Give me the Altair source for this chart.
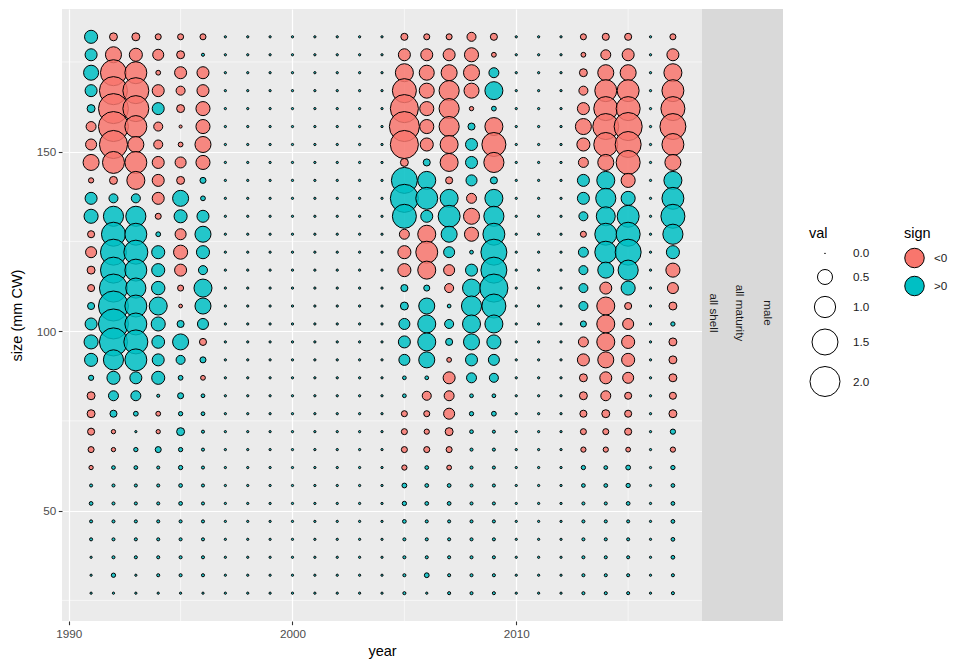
import altair as alt
import pandas as pd

# ---------------- data ----------------
years = [1991, 1992, 1993, 1994, 1995, 1996, 1997, 1998, 1999, 2000,
         2001, 2002, 2003, 2004, 2005, 2006, 2007, 2008, 2009, 2010,
         2011, 2012, 2013, 2014, 2015, 2016, 2017]

# size bins, top (182) to bottom (27)
sizes = [182, 177, 172, 167, 162, 157, 152, 147, 142, 137, 132,
         127, 122, 117, 112, 107, 102, 97, 92, 87, 82, 77,
         72, 67, 62, 57, 52, 47, 42, 37, 32, 27]

# signed values per year, same order as sizes
v1991 = [0.38, 0.32, 0.5, 0.32, 0.14, -0.22, -0.27, -0.57, -0.06, 0.32, 0.44,
         -0.11, -0.27, -0.14, -0.11, 0.11, 0.32, 0.44, 0.38, 0.06, -0.14, -0.14,
         -0.11, -0.08, -0.04, 0.02, 0.03, 0.02, 0.02, 0.01, 0.01, 0.01]
v1992 = [-0.14, -0.57, -1.5, -1.75, -2.0, -2.0, -1.75, -1.07, -0.14, 0.18, 0.9,
         1.28, 1.5, 1.5, 1.75, 2.0, 2.0, 1.75, 0.9, 0.38, 0.22, 0.11,
         -0.04, -0.04, 0.03, 0.02, 0.02, 0.02, 0.02, 0.02, 0.04, 0.01]
v1993 = [-0.14, -0.38, -1.07, -1.5, -1.5, -1.07, -0.57, -1.07, -0.72, 0.18, 0.9,
         1.07, 1.28, 1.07, 0.9, 1.07, 1.07, 1.28, 1.07, 0.32, 0.22, 0.05,
         0.01, 0.04, 0.03, 0.02, 0.02, 0.02, 0.02, 0.02, 0.01, 0.01]
v1994 = [-0.08, -0.27, -0.05, -0.32, 0.32, -0.18, -0.18, -0.32, -0.32, -0.32, -0.08,
         0.05, 0.38, 0.38, 0.4, 0.72, 0.44, 0.36, 0.32, 0.38, 0.02, -0.05,
         -0.04, 0.08, 0.02, 0.02, 0.02, 0.02, 0.02, 0.02, 0.02, 0.01]
v1995 = [-0.08, -0.14, -0.32, -0.18, -0.14, -0.02, -0.05, -0.27, -0.14, 0.57, 0.38,
         -0.27, -0.44, -0.32, -0.08, -0.03, 0.11, 0.57, 0.18, 0.05, 0.08, 0.04,
         0.14, 0.04, 0.04, 0.03, 0.03, 0.02, 0.02, 0.02, 0.02, 0.01]
v1996 = [-0.08, 0.02, -0.32, -0.32, -0.44, -0.44, -0.57, -0.44, 0.08, 0.05, 0.32,
         0.57, 0.38, 0.18, 0.72, 0.57, 0.27, -0.11, 0.08, -0.05, 0.03, 0.03,
         0.02, 0.02, 0.02, 0.02, 0.02, 0.02, 0.02, 0.02, 0.02, 0.01]
near_zero = [0.01, 0.01, 0.01, 0.01, 0.01, 0.01, 0.01, 0.01, 0.01, 0.01, 0.01,
             0.01, 0.01, 0.01, 0.01, 0.01, 0.01, 0.01, 0.01, 0.01, 0.01, 0.01,
             0.01, 0.01, 0.01, 0.01, 0.01, 0.01, 0.01, 0.01, 0.01, 0.01]
v2005 = [-0.11, -0.32, -0.72, -1.28, -1.75, -2.0, -1.75, -0.14, 1.5, 1.75, 1.28,
         -0.22, -0.38, -0.38, 0.11, 0.14, 0.27, 0.32, 0.27, 0.03, 0.03, -0.08,
         -0.08, -0.08, -0.06, 0.05, 0.04, 0.03, 0.02, 0.02, 0.02, 0.02]
v2006 = [-0.08, -0.32, -0.5, -0.5, -0.44, -0.44, -0.38, 0.11, 0.72, 1.07, 0.32,
         -0.72, -1.07, -0.72, 0.08, 0.57, 0.72, 0.72, 0.57, 0.03, -0.18, -0.08,
         -0.06, -0.08, 0.03, 0.03, 0.03, 0.02, 0.02, 0.02, 0.05, 0.01]
v2007 = [-0.08, -0.32, -0.57, -0.9, -0.9, -0.9, -0.72, -0.72, -0.11, 0.72, 1.07,
         0.57, 0.27, -0.27, -0.18, 0.03, 0.18, 0.11, -0.05, -0.32, -0.22, -0.27,
         -0.14, -0.08, -0.05, 0.03, 0.03, 0.02, 0.02, 0.02, 0.02, 0.02]
v2008 = [-0.18, -0.44, -0.57, -0.5, -0.04, 0.11, 0.32, 0.32, 0.27, -0.22, -0.57,
         -0.44, 0.03, 0.32, 0.72, 0.9, 0.72, 0.57, 0.32, 0.22, 0.03, 0.04,
         0.03, 0.02, 0.02, 0.02, 0.02, 0.02, 0.02, 0.02, 0.02, 0.02]
v2009 = [-0.11, -0.05, 0.22, 0.72, 0.05, -0.72, -1.28, -0.9, 0.11, 0.72, 0.9,
         1.07, 1.5, 1.5, 1.75, 1.28, 0.72, 0.44, 0.27, 0.18, 0.03, 0.05,
         0.02, 0.02, 0.02, 0.02, 0.02, 0.02, 0.02, 0.02, 0.02, 0.02]
v2013 = [-0.08, -0.05, -0.14, -0.18, -0.32, -0.57, -0.38, -0.22, 0.32, 0.32, 0.18,
         -0.08, 0.22, 0.18, 0.18, 0.18, 0.08, -0.22, -0.32, -0.14, -0.14, -0.11,
         -0.08, -0.06, 0.04, 0.03, 0.02, 0.02, 0.02, 0.02, 0.02, 0.02]
v2014 = [-0.11, -0.22, -0.57, -1.07, -1.28, -1.5, -1.28, -0.57, 0.72, 0.9, 0.8,
         1.07, 1.07, 0.57, -0.32, -0.72, -0.72, -0.72, -0.57, -0.32, -0.22, -0.14,
         -0.08, -0.06, 0.03, 0.03, 0.02, 0.02, 0.02, 0.02, 0.02, 0.02]
v2015 = [-0.11, -0.32, -0.57, -1.07, -1.28, -1.75, -1.5, -1.28, -0.44, 0.44, 1.07,
         1.28, 1.5, 0.9, 0.44, -0.11, -0.27, -0.38, -0.38, -0.27, -0.11, -0.11,
         -0.11, -0.05, 0.05, 0.04, 0.03, 0.02, 0.02, 0.02, 0.02, 0.02]
v2017 = [-0.08, -0.32, -0.72, -1.07, -1.28, -1.5, -1.07, -0.57, 0.72, 1.07, 1.28,
         0.9, 0.38, -0.44, -0.27, -0.14, 0.04, -0.14, -0.14, -0.14, -0.11, -0.14,
         0.06, -0.06, 0.04, 0.03, 0.03, 0.03, 0.03, 0.03, 0.02, 0.02]

series = {
    1991: v1991, 1992: v1992, 1993: v1993, 1994: v1994, 1995: v1995, 1996: v1996,
    1997: near_zero, 1998: near_zero, 1999: near_zero, 2000: near_zero,
    2001: near_zero, 2002: near_zero, 2003: near_zero, 2004: near_zero,
    2005: v2005, 2006: v2006, 2007: v2007, 2008: v2008, 2009: v2009,
    2010: near_zero, 2011: near_zero, 2012: near_zero,
    2013: v2013, 2014: v2014, 2015: v2015, 2016: near_zero, 2017: v2017,
}

sign_labels = ["<0", ">0"]
sign_colors = ["#F8766D", "#00BFC4"]
val_legend_values = [0.0, 0.5, 1.0, 1.5, 2.0]
x_ticks = [1990, 2000, 2010]
y_ticks = [50, 100, 150]
x_minor = [1995, 2005, 2015]
y_minor = [25, 75, 125, 175]
strip_labels = ["all shell", "all maturity", "male"]

rows = []
for yr in years:
    for s, v in zip(sizes, series[yr]):
        rows.append({"year": yr, "size": s, "val": abs(v),
                     "sign": "<0" if v < 0 else ">0"})
df = pd.DataFrame(rows)

FONT = "Liberation Sans"
W, H = 640, 612

xscale = alt.Scale(domain=[1989.7, 2018.3], nice=False, zero=False)
yscale = alt.Scale(domain=[19.25, 189.75], nice=False, zero=False)

common_axis = dict(labelFontSize=11.7, labelColor="#4D4D4D", tickColor="#333333",
                   tickSize=3.7, tickWidth=1.1, domain=False, grid=True,
                   gridColor="white", gridWidth=1.2, titleFontSize=14.5,
                   titleFontWeight="normal", titleColor="black",
                   labelFont=FONT, titleFont=FONT)

xaxis = alt.Axis(values=x_ticks, format="d", title="year", labelPadding=3.5,
                 titlePadding=5, **common_axis)
yaxis = alt.Axis(values=y_ticks, format="d", title="size (mm CW)", labelPadding=2.5,
                 titlePadding=12, **common_axis)

one = pd.DataFrame({"k": [0]})

minor_x = alt.Chart(pd.DataFrame({"year": x_minor})).mark_rule(
    color="white", strokeWidth=0.6).encode(x=alt.X("year:Q", scale=xscale, axis=xaxis))
minor_y = alt.Chart(pd.DataFrame({"size": y_minor})).mark_rule(
    color="white", strokeWidth=0.6).encode(y=alt.Y("size:Q", scale=yscale, axis=yaxis))

points = alt.Chart(df).mark_circle(
    stroke="black", strokeWidth=1.0, opacity=1, fillOpacity=0.85
).encode(
    x=alt.X("year:Q", scale=xscale, axis=xaxis),
    y=alt.Y("size:Q", scale=yscale, axis=yaxis),
    size=alt.Size("val:Q", scale=alt.Scale(domain=[0, 2], range=[0.5, 900.5], clamp=True),
                  legend=alt.Legend(title="val", values=val_legend_values, format=".1f",
                                    orient="none", legendX=747, legendY=218,
                                    titleFontSize=14.5, titleFontWeight="normal",
                                    titleColor="black", titleFont=FONT,
                                    labelFontSize=11.7, labelColor="#1A1A1A",
                                    labelFont=FONT, labelOffset=12, titlePadding=6,
                                    rowPadding=6, symbolType="circle",
                                    symbolFillColor="transparent",
                                    symbolStrokeColor="black", symbolStrokeWidth=1,
                                    symbolOpacity=1)),
    color=alt.Color("sign:N", scale=alt.Scale(domain=sign_labels, range=sign_colors),
                    legend=alt.Legend(title="sign", orient="none", legendX=842,
                                      legendY=218, titleFontSize=14.5,
                                      titleFontWeight="normal", titleColor="black",
                                      titleFont=FONT, labelFontSize=11.7,
                                      labelColor="#1A1A1A", labelFont=FONT,
                                      labelOffset=9, titlePadding=6, rowPadding=3,
                                      symbolType="circle", symbolSize=380,
                                      symbolStrokeColor="black", symbolStrokeWidth=1,
                                      symbolOpacity=1)),
)

strip_bg = alt.Chart(one).mark_rect(color="#D9D9D9", clip=False).encode(
    x=alt.value(W), x2=alt.value(W + 81), y=alt.value(0), y2=alt.value(H))

strip_x = [652, 677.5, 705.5]
strip_texts = [
    alt.Chart(pd.DataFrame({"label": [lab]})).mark_text(
        angle=90, fontSize=11.7, color="#1A1A1A", font=FONT, align="center",
        baseline="middle").encode(text="label:N", x=alt.value(px), y=alt.value(304))
    for lab, px in zip(strip_labels, strip_x)
]

chart = alt.layer(minor_x, minor_y, points, strip_bg, *strip_texts).properties(
    width=W, height=H,
    padding={"left": 1, "top": 0, "right": 0, "bottom": 0},
).configure(font=FONT).configure_view(fill="#EBEBEB", stroke=None)

chart.save("out.html", embed_options={"renderer": "svg", "actions": False})
